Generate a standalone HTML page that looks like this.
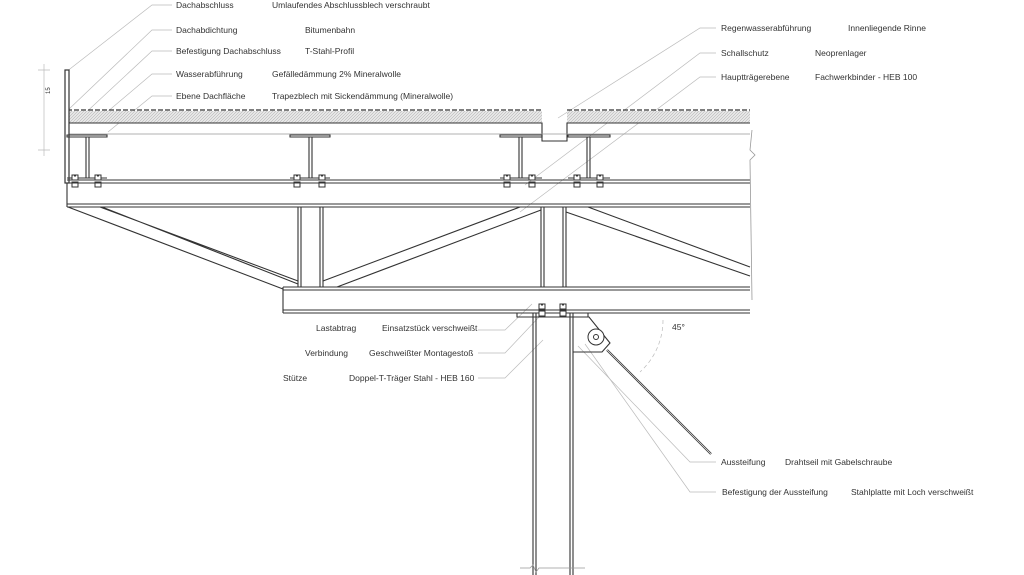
<!DOCTYPE html>
<html><head><meta charset="utf-8"><style>
html,body{margin:0;padding:0;background:#fff;}
svg{display:block;}
text{font-family:"Liberation Sans",sans-serif;font-size:8.5px;fill:#333;}
.l{stroke:#bbb;stroke-width:0.7;fill:none;}
.s{stroke:#333;stroke-width:1.1;fill:none;}
.f{stroke:#333;stroke-width:1;fill:#fff;}
</style></head><body>
<svg width="1024" height="575" viewBox="0 0 1024 575">
<defs>
<pattern id="h" width="3" height="3" patternUnits="userSpaceOnUse"><rect width="3" height="3" fill="#e6e6e6"/><path d="M0 3L3 0" stroke="#aaa" stroke-width="0.5"/></pattern>
<g id="bolt"><rect x="-3" y="-6" width="6" height="5" class="f"/><rect x="-3" y="1" width="6" height="5" class="f"/><line x1="-1" y1="-5" x2="1" y2="-5" stroke="#333"/></g>
</defs>
<g class="l">
<path d="M172 5H152L66 72"/>
<path d="M172 30H152L68 110"/>
<path d="M172 51H152L80 118"/>
<path d="M172 74H152L100 118"/>
<path d="M172 96H152L108 132"/>
<path d="M716 28H700L558 118"/>
<path d="M716 53H700L525 185"/>
<path d="M716 77H700L520 212"/>
<path d="M478 330H505L532 304"/>
<path d="M478 353H505L540 316"/>
<path d="M478 378H505L543 340"/>
<path d="M716 462H690L578 346"/>
<path d="M716 492H690L585 344"/>
<path d="M663 320A70 70 0 0 1 640 372" stroke-dasharray="4 3"/>
<path d="M38 70H50M38 150H50M44 64V156" />
</g>
<rect x="67" y="111" width="475" height="12" fill="url(#h)"/>
<rect x="567" y="111" width="183" height="12" fill="url(#h)"/>
<path d="M67 110H542M567 110H750" stroke="#333" stroke-width="1.2" stroke-dasharray="5 2"/>
<path d="M67 123H542V141H567V123H750" class="s"/>
<line x1="67" y1="134" x2="750" y2="134" stroke="#999" stroke-width="0.8"/>
<rect x="65" y="70" width="4" height="113" fill="#fff" stroke="#333" stroke-width="1.2"/>
<g class="s">
<path d="M67 135H107V137H67Z M86 137V178 M89 137V178 M67 178H107"/>
<path d="M290 135H330V137H290Z M309 137V178 M312 137V178 M290 178H330"/>
<path d="M500 135H542V137H500Z M519 137V178 M522 137V178 M500 178H542"/>
<path d="M568 135H610V137H568Z M587 137V178 M590 137V178 M568 178H610"/>
</g>
<use href="#bolt" x="75" y="181"/><use href="#bolt" x="98" y="181"/>
<use href="#bolt" x="297" y="181"/><use href="#bolt" x="322" y="181"/>
<use href="#bolt" x="507" y="181"/><use href="#bolt" x="532" y="181"/>
<use href="#bolt" x="577" y="181"/><use href="#bolt" x="600" y="181"/>
<g class="s">
<path d="M67 180H750M67 183H750M67 204H750M67 207H750M67 183V207"/>
<path d="M298 207V287M301 207V287M320 207V287M323 207V287"/>
<path d="M541 207V287M544 207V287M563 207V287M566 207V287"/>
<path d="M68 207L283 289M100 207L298 281M102 207L298 284"/>
<path d="M323 281L520 207M337 287L541 210"/>
<path d="M566 212L750 276M588 207L750 267"/>
<path d="M283 287H750M283 290H750M283 310H750M283 313H750M283 287V313"/>
<path d="M533 313V575M536 313V575M570 313V575M573 313V575"/>
<path d="M517 313H588V317H517Z"/>
<path d="M573 317H589L610 343L602 352H573"/>
</g>
<path d="M607 350L711 454" stroke="#333" stroke-width="2.2"/>
<path d="M607 350L711 454" stroke="#fff" stroke-width="0.6"/>
<circle cx="596" cy="337" r="8" class="f"/><circle cx="596" cy="337" r="2.5" class="f"/>
<use href="#bolt" x="542" y="310"/><use href="#bolt" x="563" y="310"/>
<path d="M752 130L750 150L755 155L750 160L752 300" stroke="#999" fill="none" stroke-width="0.8"/>
<path d="M520 568H530L533 565L536 572L539 568H585" stroke="#999" fill="none" stroke-width="0.8"/>
<text x="176" y="8">Dachabschluss</text><text x="272" y="8">Umlaufendes Abschlussblech verschraubt</text>
<text x="176" y="33">Dachabdichtung</text><text x="305" y="33">Bitumenbahn</text>
<text x="176" y="54">Befestigung Dachabschluss</text><text x="305" y="54">T-Stahl-Profil</text>
<text x="176" y="77">Wasserabführung</text><text x="272" y="77">Gefälledämmung 2% Mineralwolle</text>
<text x="176" y="99">Ebene Dachfläche</text><text x="272" y="99">Trapezblech mit Sickendämmung (Mineralwolle)</text>
<text x="721" y="31">Regenwasserabführung</text><text x="848" y="31">Innenliegende Rinne</text>
<text x="721" y="56">Schallschutz</text><text x="815" y="56">Neoprenlager</text>
<text x="721" y="80">Hauptträgerebene</text><text x="815" y="80">Fachwerkbinder - HEB 100</text>
<text x="316" y="331">Lastabtrag</text><text x="382" y="331">Einsatzstück verschweißt</text>
<text x="305" y="356">Verbindung</text><text x="369" y="356">Geschweißter Montagestoß</text>
<text x="283" y="381">Stütze</text><text x="349" y="381">Doppel-T-Träger Stahl - HEB 160</text>
<text x="721" y="465">Aussteifung</text><text x="785" y="465">Drahtseil mit Gabelschraube</text>
<text x="722" y="495">Befestigung der Aussteifung</text><text x="851" y="495">Stahlplatte mit Loch verschweißt</text>
<text x="672" y="330">45°</text>
<text x="0" y="0" transform="translate(50,94) rotate(-90)" style="font-size:6px">15</text>
</svg>
</body></html>
